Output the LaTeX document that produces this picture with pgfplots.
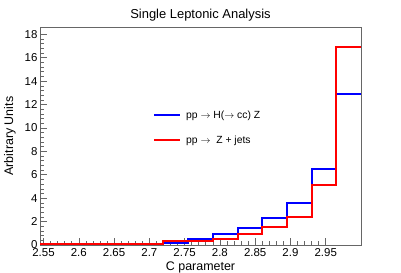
\documentclass[border=0pt]{standalone}
\usepackage{pgfplots}
\pgfplotsset{compat=1.18}
\usepackage{fontspec}
\setmainfont{Liberation Sans}
\begin{document}
\begin{tikzpicture}[x=1bp,y=1bp]
\begin{axis}[
  at={(40bp,28bp)}, anchor=south west,
  scale only axis, width=321bp, height=217.7bp,
  xmin=2.545, xmax=3.0, ymin=0, ymax=18.6,
  xtick={2.55,2.6,2.65,2.7,2.75,2.8,2.85,2.9,2.95},
  ytick={0,2,4,6,8,10,12,14,16,18},
  minor x tick num=4, minor y tick num=4,
  tick align=inside, tick pos=left,
  major tick length=7bp, minor tick length=3.5bp,
  tick style={black!60, line width=0.6bp},
  axis line style={black!60, line width=0.9bp},
  /pgf/number format/assume math mode=true,
  ticklabel style={font=\fontsize{11.5}{13}\selectfont},
  xticklabel style={yshift=0.5bp},
  yticklabel style={xshift=1bp},
  title={Single Leptonic Analysis},
  title style={at={(axis description cs:0.5,1)}, anchor=base, yshift=2.8bp, font=\fontsize{13}{15}\selectfont, inner sep=0pt},
  xlabel={C parameter},
  xlabel style={at={(axis description cs:0.5,0)}, anchor=base, yshift=-25bp, font=\fontsize{12.5}{14}\selectfont, inner sep=0pt},
  ylabel={Arbitrary Units},
  ylabel style={at={(axis description cs:-0.084,0.5)}, anchor=base, font=\fontsize{12.5}{14}\selectfont, inner sep=0pt},
  legend style={draw=none, fill=none, at={(axis description cs:0.352,0.538)}, anchor=west,
    inner sep=0pt, row sep=15.7bp, font=\fontsize{10.4}{12}\selectfont,
    nodes={inner sep=0pt, text height=7.5bp, text depth=2bp}},
  legend cell align=left,
  legend image code/.code={\draw[#1] (0bp,0bp) -- (26bp,0bp);},
]
\addplot[const plot, blue, line width=2bp] coordinates {
(2.545,0.02) (2.58,0.02) (2.615,0.03) (2.65,0.04) (2.685,0.06) (2.72,0.2) (2.755,0.5)
(2.79,0.98) (2.825,1.48) (2.86,2.29) (2.895,3.58) (2.93,6.47) (2.965,12.88) (3.0,12.88)};
\addlegendentry{\hspace{5bp}pp $\rightarrow$ H($\rightarrow$ cc) Z}
\addplot[const plot, red, line width=2bp] coordinates {
(2.545,0.06) (2.58,0.06) (2.615,0.07) (2.65,0.08) (2.685,0.1) (2.72,0.33) (2.755,0.38)
(2.79,0.52) (2.825,0.94) (2.86,1.51) (2.895,2.35) (2.93,5.14) (2.965,16.92) (3.0,16.92)};
\addlegendentry{\hspace{5bp}pp $\rightarrow$\ \ Z + jets}
\end{axis}
\pgfresetboundingbox
\path[use as bounding box] (0,0) rectangle (401bp,273bp);
\end{tikzpicture}
\end{document}
